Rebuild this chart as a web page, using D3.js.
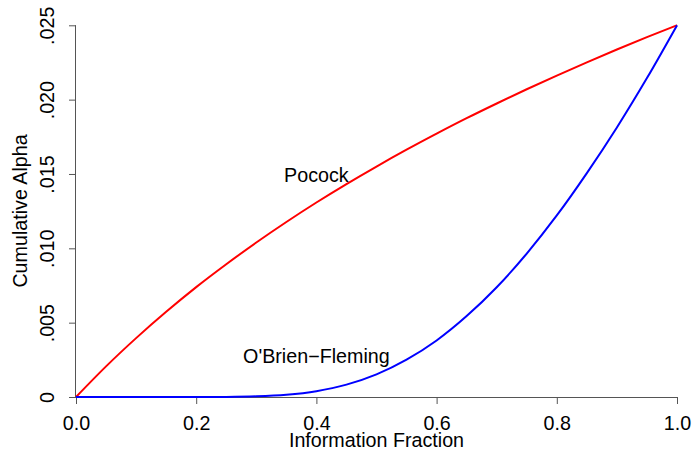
<!DOCTYPE html>
<html>
<head>
<meta charset="utf-8">
<script src="https://cdn.jsdelivr.net/npm/d3@7"></script>
<style>
  body { margin: 0; background: #fff; }
  text { font-family: "Liberation Sans", Arial, sans-serif; fill: #000; }
</style>
</head>
<body>
<script>
// information fraction
var frac = [0, 0.05, 0.1, 0.15, 0.2, 0.25, 0.3, 0.35, 0.4, 0.45, 0.5,
            0.55, 0.6, 0.65, 0.7, 0.75, 0.8, 0.85, 0.9, 0.95, 1]
// cumulative alpha
var pocock = [0, 0.00206, 0.00396, 0.00573, 0.00739, 0.00893, 0.01039, 0.01177, 0.01308, 0.01432, 0.01550,
              0.01663, 0.01771, 0.01875, 0.01974, 0.02070, 0.02162, 0.02251, 0.02337, 0.02420, 0.025]
var obf = [0, 0, 0, 0, 0.0000005, 0.0000074, 0.000043, 0.00015, 0.00039, 0.00083, 0.00152,
           0.00251, 0.00380, 0.00544, 0.00738, 0.00965, 0.01221, 0.01506, 0.01813, 0.02145, 0.025]
var xTicks = [0, 0.2, 0.4, 0.6, 0.8, 1.0]
var xTickLabels = ["0.0", "0.2", "0.4", "0.6", "0.8", "1.0"]
var yTicks = [0, 0.005, 0.010, 0.015, 0.020, 0.025]
var yTickLabels = ["0", ".005", ".010", ".015", ".020", ".025"]

var screen = {width: 693, height: 451}
var fs = 19.7

var x = d3.scaleLinear().domain([0, 1]).range([76, 677])
var y = d3.scaleLinear().domain([0, 0.025]).range([397, 25.3])

var svg = d3.select("body")
            .append("svg")
            .attr("width", screen.width)
            .attr("height", screen.height)

// x axis
var xAxis = d3.axisBottom(x)
              .tickValues(xTicks)
              .tickSize(7)
              .tickSizeOuter(0)
              .tickFormat(function(d, i) { return xTickLabels[i]; })
var gx = svg.append("g")
            .attr("transform", "translate(0," + 397 + ")")
            .call(xAxis)
gx.select(".domain").attr("stroke", "#555").attr("d", "M76,0.5H677")
gx.selectAll(".tick line").attr("stroke", "#555")
gx.selectAll(".tick text").attr("font-size", fs).attr("dy", 0).attr("y", 33)

// y axis
var yAxis = d3.axisLeft(y)
              .tickValues(yTicks)
              .tickSize(7)
              .tickSizeOuter(0)
              .tickFormat(function(d, i) { return yTickLabels[i]; })
var gy = svg.append("g")
            .attr("transform", "translate(" + 76 + ",0)")
            .call(yAxis)
gy.select(".domain").attr("stroke", "#555").attr("d", "M-0.5,397V25.3")
gy.selectAll(".tick line").attr("stroke", "#555")
gy.selectAll(".tick text")
  .attr("font-size", fs)
  .attr("x", 0).attr("dy", 0)
  .attr("text-anchor", "middle")
  .attr("transform", "translate(-22,0) rotate(-90)")

// axis titles
svg.append("text")
   .attr("x", (76 + 677) / 2).attr("y", 447)
   .attr("text-anchor", "middle").attr("font-size", fs)
   .text("Information Fraction")
svg.append("text")
   .attr("transform", "translate(27," + ((25 + 397) / 2) + ") rotate(-90)")
   .attr("text-anchor", "middle").attr("font-size", fs)
   .text("Cumulative Alpha")

var line = d3.line()
             .x(function(d) { return x(d[0]); })
             .y(function(d) { return y(d[1]); })
             .curve(d3.curveMonotoneX)

svg.append("path")
   .attr("d", line(d3.zip(frac, pocock)))
   .attr("stroke", "#ff0000").attr("stroke-width", 2).attr("fill", "none")
svg.append("path")
   .attr("d", line(d3.zip(frac, obf)))
   .attr("stroke", "#0000ff").attr("stroke-width", 2).attr("fill", "none")

// curve labels
svg.append("text")
   .attr("x", x(0.4)).attr("y", y(0.01446))
   .attr("text-anchor", "middle").attr("font-size", fs)
   .text("Pocock")
svg.append("text")
   .attr("x", x(0.4)).attr("y", y(0.00229))
   .attr("text-anchor", "middle").attr("font-size", fs)
   .text("O'Brien\u2212Fleming")
</script>
</body>
</html>
